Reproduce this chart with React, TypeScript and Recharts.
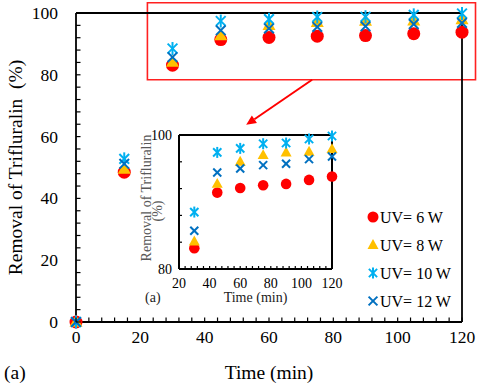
import React from 'react';
import {
  ScatterChart,
  Scatter,
  XAxis,
  YAxis,
  ReferenceLine,
  ReferenceArea,
  Legend,
  Label,
} from 'recharts';

// ---------------- data ----------------
const time = [0, 15, 30, 45, 60, 75, 90, 105, 120];
const uv6 = [0, 48.5, 83.1, 91.4, 92.1, 92.5, 92.7, 93.3, 93.8];
const uv8 = [0, 49.5, 84.1, 92.7, 96.0, 97.0, 97.4, 97.5, 97.9];
const uv10 = [0, 52.8, 88.5, 97.4, 98.0, 98.7, 98.8, 99.4, 99.85];
const uv12 = [0, 51.2, 85.7, 94.4, 95.0, 95.5, 95.7, 96.4, 96.8];

const seriesNames = ['UV= 6 W', 'UV= 8 W', 'UV= 10 W', 'UV= 12 W'];
const seriesColors = ['#FF0000', '#FFC000', '#00B0F0', '#0070C0'];
const seriesKinds = ['circle', 'triangle', 'asterisk', 'cross'];

const mainXLabels = [0, 20, 40, 60, 80, 100, 120];
const mainYLabels = [0, 20, 40, 60, 80, 100];
const mainXTicks = Array.from({ length: 31 }, (_, i) => i * 4);
const mainYTicks = Array.from({ length: 26 }, (_, i) => i * 4);

const insetXLabels = [20, 40, 60, 80, 100, 120];
const insetYLabels = [80, 100];
const insetXTicks = Array.from({ length: 26 }, (_, i) => 20 + i * 4);
const insetYTicks = [80, 84, 88, 92, 96, 100];
const insetStartTime = 30;

// annotation (zoom box + arrow), in data units of the main chart
const zoomBox = { x1: 22.2, x2: 124.2, y1: 78.4, y2: 103.3 };
const arrowSeg = [
  { x: 73.4, y: 78.4 },
  { x: 52.9, y: 63.8 },
];

const FONT = 'Liberation Serif, Times New Roman, DejaVu Serif, serif';
const TXT = { fontFamily: FONT };

const allSeries = [uv6, uv8, uv10, uv12];
const mainData = allSeries.map((vals) => time.map((t, i) => ({ x: t, y: vals[i] })));
const insetData = allSeries.map((vals) =>
  time.map((t, i) => ({ x: t, y: vals[i] })).filter((d) => d.x >= insetStartTime)
);

// ---------------- markers ----------------
function Marker({ kind, cx, cy, color, s }: any) {
  if (cx == null || cy == null) return null;
  if (kind === 'circle') return <circle cx={cx} cy={cy} r={s} fill={color} />;
  if (kind === 'triangle') {
    const h = s * 1.8;
    const w = s * 2;
    return (
      <polygon
        points={`${cx},${cy - h * 0.6} ${cx - w / 2},${cy + h * 0.4} ${cx + w / 2},${cy + h * 0.4}`}
        fill={color}
      />
    );
  }
  if (kind === 'asterisk') {
    const d = s * 0.75;
    return (
      <g stroke={color} strokeWidth={2} strokeLinecap="butt">
        <line x1={cx} y1={cy - s} x2={cx} y2={cy + s} />
        <line x1={cx - d} y1={cy - d} x2={cx + d} y2={cy + d} />
        <line x1={cx - d} y1={cy + d} x2={cx + d} y2={cy - d} />
      </g>
    );
  }
  const d = s * 0.8;
  return (
    <g stroke={color} strokeWidth={2}>
      <line x1={cx - d} y1={cy - d} x2={cx + d} y2={cy + d} />
      <line x1={cx - d} y1={cy + d} x2={cx + d} y2={cy - d} />
    </g>
  );
}

const mainSizes: Record<string, number> = { circle: 6.5, triangle: 6.5, asterisk: 6.5, cross: 6 };
const insetSizes: Record<string, number> = { circle: 5.3, triangle: 5.5, asterisk: 5.5, cross: 5 };

// ---------------- ticks ----------------
function XTick(props: any) {
  const { x, y, payload, labels, len, fontSize, dy } = props;
  const show = labels.includes(payload.value);
  return (
    <g>
      <line x1={x} x2={x} y1={y} y2={y - len} stroke="#000" strokeWidth={1.2} />
      {show && (
        <text x={x} y={y + dy} textAnchor="middle" style={TXT} fontSize={fontSize} fill="#000">
          {payload.value}
        </text>
      )}
    </g>
  );
}

function YTick(props: any) {
  const { x, y, payload, labels, len, fontSize, gap, dy } = props;
  const show = labels.includes(payload.value);
  return (
    <g>
      <line x1={x} x2={x + len} y1={y} y2={y} stroke="#000" strokeWidth={1.2} />
      {show && (
        <text x={x - gap} y={y + dy} textAnchor="end" style={TXT} fontSize={fontSize} fill="#000">
          {payload.value}
        </text>
      )}
    </g>
  );
}

// ---------------- annotation shapes ----------------
function ArrowShape(props: any) {
  const { x1, y1, x2, y2 } = props;
  if ([x1, y1, x2, y2].some((v) => v == null || isNaN(v))) return null;
  const ang = Math.atan2(y2 - y1, x2 - x1);
  const L = 10;
  const W = 4.5;
  const bx = x2 - L * Math.cos(ang);
  const by = y2 - L * Math.sin(ang);
  const px = -Math.sin(ang) * W;
  const py = Math.cos(ang) * W;
  return (
    <g>
      <line x1={x1} y1={y1} x2={bx} y2={by} stroke="#FF0000" strokeWidth={2} />
      <polygon points={`${x2},${y2} ${bx + px},${by + py} ${bx - px},${by - py}`} fill="#FF0000" />
    </g>
  );
}

// ---------------- legend ----------------
function renderLegend() {
  return (
    <svg width={115} height={115} style={{ display: 'block' }}>
      {seriesNames.map((name, i) => {
        const cy = 12 + i * 28;
        return (
          <g key={name}>
            <Marker kind={seriesKinds[i]} cx={8} cy={cy} color={seriesColors[i]} s={5.5} />
            <text x={15} y={cy + 5.5} style={TXT} fontSize={16} fill="#000">
              {name}
            </text>
          </g>
        );
      })}
    </svg>
  );
}

export default function App() {
  return (
    <div style={{ position: 'absolute', left: 0, top: 0, width: 480, height: 387, background: '#fff', fontFamily: FONT }}>
      {/* main chart */}
      <div style={{ position: 'absolute', left: 0, top: 0 }}>
        <ScatterChart width={480} height={387} margin={{ top: 13, right: 18, bottom: 0, left: 0 }}>
          <XAxis
            type="number"
            dataKey="x"
            domain={[0, 120]}
            ticks={mainXTicks}
            interval={0}
            height={65}
            tickSize={0}
            tickMargin={0}
            axisLine={{ stroke: '#000', strokeWidth: 1.8 }}
            tickLine={false}
            tick={(p: any) => <XTick {...p} labels={mainXLabels} len={4.5} fontSize={17.5} dy={21} />}
          >
            <Label
              content={(p: any) => {
                const vb = p.viewBox || {};
                return (
                  <g>
                    <text x={vb.x + vb.width / 2} y={vb.y + 57} textAnchor="middle" style={TXT} fontSize={19.5} fill="#000">
                      Time (min)
                    </text>
                    <text x={4} y={vb.y + 57} textAnchor="start" style={TXT} fontSize={19.5} fill="#000">
                      (a)
                    </text>
                  </g>
                );
              }}
            />
          </XAxis>
          <YAxis
            type="number"
            dataKey="y"
            domain={[0, 100]}
            ticks={mainYTicks}
            interval={0}
            width={76}
            tickSize={0}
            tickMargin={0}
            axisLine={{ stroke: '#000', strokeWidth: 1.8 }}
            tickLine={false}
            tick={(p: any) => <YTick {...p} labels={mainYLabels} len={4.5} fontSize={17.5} gap={18} dy={6} />}
          >
            <Label
              content={(p: any) => {
                const vb = p.viewBox || {};
                const cx = 15;
                const cy = vb.y + vb.height / 2;
                return (
                  <text
                    x={cx}
                    y={cy}
                    transform={`rotate(-90, ${cx}, ${cy})`}
                    textAnchor="middle"
                    dominantBaseline="central"
                    fontSize={19.5}
                    fill="#000"
                    style={{ ...TXT, whiteSpace: 'pre' }}
                  >
                    {'Removal of Trifluralin  (%)'}
                  </text>
                );
              }}
            />
          </YAxis>
          <ReferenceLine y={100} stroke="#000" strokeWidth={1.8} />
          <ReferenceLine x={120} stroke="#000" strokeWidth={1.8} />
          <ReferenceArea
            x1={zoomBox.x1}
            x2={zoomBox.x2}
            y1={zoomBox.y1}
            y2={zoomBox.y2}
            ifOverflow="visible"
            fill="none"
            fillOpacity={0}
            stroke="#FF2020"
            strokeWidth={1.6}
          />
          <ReferenceLine segment={arrowSeg} ifOverflow="visible" shape={(p: any) => <ArrowShape {...p} />} />
          {mainData.map((d, i) => (
            <Scatter
              key={seriesNames[i]}
              name={seriesNames[i]}
              data={d}
              fill={seriesColors[i]}
              isAnimationActive={false}
              shape={(p: any) => (
                <Marker kind={seriesKinds[i]} cx={p.cx} cy={p.cy} color={seriesColors[i]} s={mainSizes[seriesKinds[i]]} />
              )}
            />
          ))}
          <Legend
            layout="vertical"
            align="center"
            verticalAlign="middle"
            content={renderLegend}
            wrapperStyle={{ position: 'absolute', left: 365, top: 205, width: 115, height: 115 }}
          />
        </ScatterChart>
      </div>

      {/* inset chart */}
      <div style={{ position: 'absolute', left: 130, top: 120 }}>
        <ScatterChart width={222} height={190} margin={{ top: 15, right: 20, bottom: 0, left: 0 }}>
          <XAxis
            type="number"
            dataKey="x"
            domain={[20, 120]}
            ticks={insetXTicks}
            interval={0}
            height={41}
            tickSize={0}
            tickMargin={0}
            axisLine={{ stroke: '#000', strokeWidth: 2 }}
            tickLine={false}
            tick={(p: any) => <XTick {...p} labels={insetXLabels} len={3} fontSize={14} dy={19} />}
          >
            <Label
              content={(p: any) => {
                const vb = p.viewBox || {};
                return (
                  <g>
                    <text x={vb.x + vb.width / 2} y={vb.y + 32.5} textAnchor="middle" style={TXT} fontSize={14} fill="#222">
                      Time (min)
                    </text>
                    <text x={15} y={vb.y + 32.5} textAnchor="start" style={TXT} fontSize={14} fill="#222">
                      (a)
                    </text>
                  </g>
                );
              }}
            />
          </XAxis>
          <YAxis
            type="number"
            dataKey="y"
            domain={[80, 100]}
            ticks={insetYTicks}
            interval={0}
            width={49}
            tickSize={0}
            tickMargin={0}
            axisLine={{ stroke: '#000', strokeWidth: 2 }}
            tickLine={false}
            tick={(p: any) => <YTick {...p} labels={insetYLabels} len={3} fontSize={14} gap={7} dy={5} />}
          >
            <Label
              content={(p: any) => {
                const vb = p.viewBox || {};
                const c1x = 16;
                const c1y = vb.y + 63;
                const c2x = 27;
                const c2y = vb.y + 76;
                return (
                  <g fontSize={14} fill="#595959" style={TXT}>
                    <text x={c1x} y={c1y} transform={`rotate(-90, ${c1x}, ${c1y})`} textAnchor="middle" dominantBaseline="central" style={TXT}>
                      Removal of Trifluralin
                    </text>
                    <text x={c2x} y={c2y} transform={`rotate(-90, ${c2x}, ${c2y})`} textAnchor="middle" dominantBaseline="central" style={TXT}>
                      (%)
                    </text>
                  </g>
                );
              }}
            />
          </YAxis>
          <ReferenceLine y={100} stroke="#000" strokeWidth={2} />
          <ReferenceLine x={120} stroke="#000" strokeWidth={2} />
          {insetData.map((d, i) => (
            <Scatter
              key={seriesNames[i]}
              name={seriesNames[i]}
              data={d}
              fill={seriesColors[i]}
              isAnimationActive={false}
              shape={(p: any) => (
                <Marker kind={seriesKinds[i]} cx={p.cx} cy={p.cy} color={seriesColors[i]} s={insetSizes[seriesKinds[i]]} />
              )}
            />
          ))}
        </ScatterChart>
      </div>
    </div>
  );
}
